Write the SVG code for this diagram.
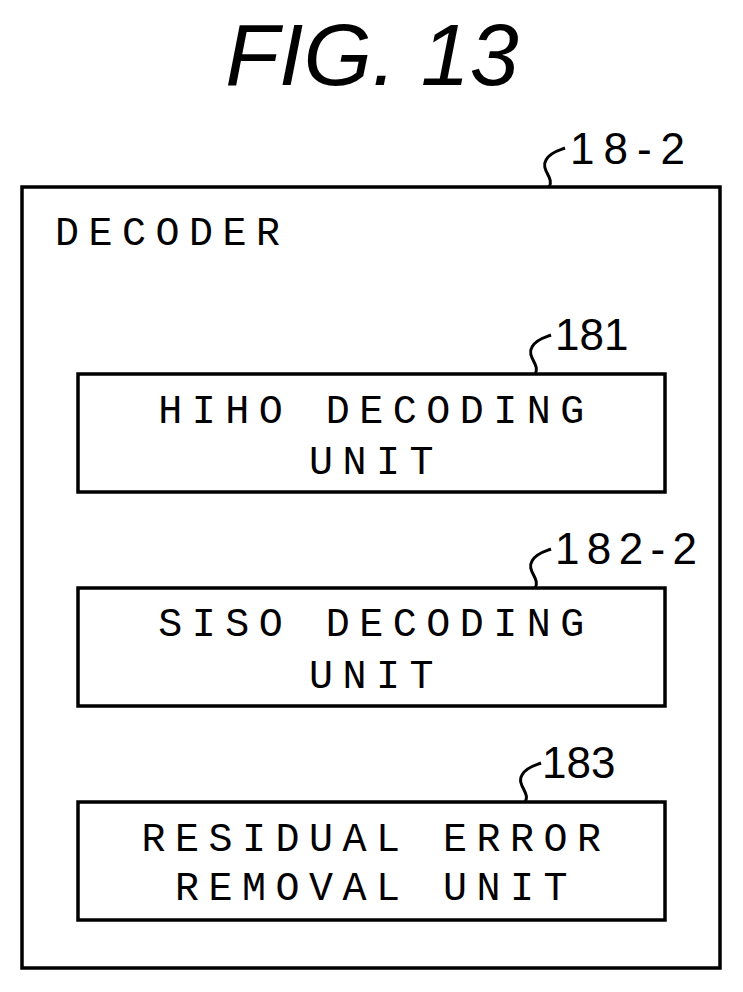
<svg xmlns="http://www.w3.org/2000/svg" width="743" height="992" viewBox="0 0 743 992">
<style>
.b{fill:#fff;stroke:#000;stroke-width:3.5}
.m{font-family:"Liberation Mono",monospace;font-size:40px;letter-spacing:9.5px;fill:#000}
.c{text-anchor:middle}
.n{font-family:"Liberation Sans",Arial,sans-serif;font-size:44px;fill:#000}
.s{fill:none;stroke:#000;stroke-width:3}
</style>
<rect width="743" height="992" fill="#fff"/>
<text x="372" y="85" class="n" style="font-size:88px;font-style:italic" text-anchor="middle">FIG. 13</text>
<g id="decoder">
<rect class="b" x="22" y="187" width="698" height="781"/>
<text class="m" x="55" y="245">DECODER</text>
<path class="s" d="M549,187 C555,178 540,170 546,160 C550,152 560,150 565,148"/>
<text class="n" x="570" y="164" textLength="115">18-2</text>
</g>
<g id="n181">
<rect class="b" x="78" y="374" width="587" height="118"/>
<text class="m c" x="376" y="423">HIHO DECODING</text>
<text class="m c" x="376" y="474">UNIT</text>
<path class="s" d="M535,374 C541,365 526,357 532,347 C536,339 546,337 551,335"/>
<text class="n" x="555" y="350">181</text>
</g>
<g id="n182">
<rect class="b" x="78" y="588" width="587" height="118"/>
<text class="m c" x="376" y="636">SISO DECODING</text>
<text class="m c" x="376" y="688">UNIT</text>
<path class="s" d="M535,588 C541,579 526,571 532,561 C536,553 546,551 551,549"/>
<text class="n" x="555" y="564" textLength="142">182-2</text>
</g>
<g id="n183">
<rect class="b" x="78" y="802" width="587" height="118"/>
<text class="m c" x="376" y="851">RESIDUAL ERROR</text>
<text class="m c" x="376" y="900">REMOVAL UNIT</text>
<path class="s" d="M525,802 C531,793 516,785 522,775 C526,767 536,765 541,763"/>
<text class="n" x="542" y="778">183</text>
</g>
<g id="connectors"/>
</svg>
